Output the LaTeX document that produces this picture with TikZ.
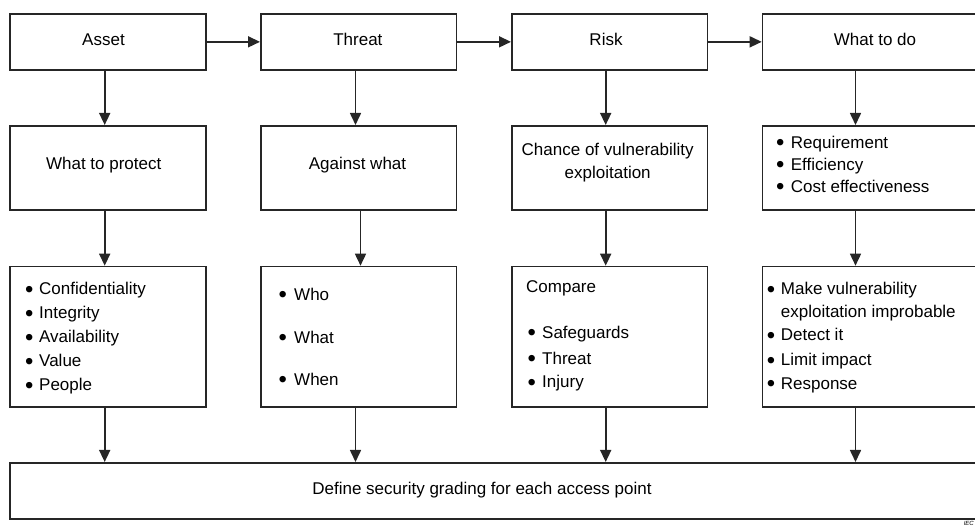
\documentclass[tikz,border=0pt]{standalone}
\usepackage{fontspec}
\setmainfont{Liberation Sans}
\usetikzlibrary{arrows.meta,calc}
\tikzset{
  box/.style={draw=black!85, line width=1.7pt, fill=white, rectangle, inner sep=0pt, anchor=north west},
  lbl/.style={font=\fontsize{17}{23}\selectfont, inner sep=0pt, anchor=base, text=black},
  itm/.style={font=\fontsize{17}{23}\selectfont, inner sep=0pt, anchor=base west, text=black},
  arr/.style={draw=black!85, line width=1.6pt, -{Triangle[length=12pt,width=11pt]}},
}
\newcommand{\bitem}[2]{\makebox[#1pt][l]{\raisebox{-2.2pt}{\scalebox{1.4}{\textbullet}}}#2}
\begin{document}
\begin{tikzpicture}[x=1pt,y=-1pt]
\useasboundingbox (0,0) rectangle (975,526);
\clip (0,0) rectangle (975,526);
% row 1
\node[box, minimum width=195.7pt, minimum height=56pt] (asset) at (9.3,13) {};
\node[box, minimum width=195.7pt, minimum height=56pt] (threat) at (260,13) {};
\node[box, minimum width=195.7pt, minimum height=56pt] (risk) at (511,13) {};
\node[box, minimum width=226pt, minimum height=56pt] (todo) at (761.7,13) {};
% row 2
\node[box, minimum width=195.7pt, minimum height=84pt] (protect) at (9.3,125) {};
\node[box, minimum width=195.7pt, minimum height=84pt] (against) at (260,125) {};
\node[box, minimum width=195.7pt, minimum height=84pt] (chance) at (511,125) {};
\node[box, minimum width=226pt, minimum height=84pt] (req) at (761.7,125) {};
% row 3
\node[box, minimum width=195.7pt, minimum height=140.3pt] (conf) at (9.3,265.7) {};
\node[box, minimum width=195.7pt, minimum height=140.3pt] (who) at (260,265.7) {};
\node[box, minimum width=195.7pt, minimum height=140.3pt] (compare) at (511,265.7) {};
\node[box, minimum width=226pt, minimum height=140.3pt] (make) at (761.7,265.7) {};
% bottom
\node[box, minimum width=1000pt, minimum height=56pt] (define) at (9.3,462) {};

% column coordinates
\coordinate (c1) at (104.7,0);
\coordinate (c2) at (355.5,0);
\coordinate (c2b) at (360.5,0);
\coordinate (c3) at (605.7,0);
\coordinate (c4) at (855.5,0);

% horizontal arrows
\draw[arr] (asset.east) -- (threat.west);
\draw[arr] (threat.east) -- (risk.west);
\draw[arr] (risk.east) -- (todo.west);
% vertical arrows
\draw[arr] (asset.south -| c1) -- (protect.north -| c1);
\draw[arr] (protect.south -| c1) -- (conf.north -| c1);
\draw[arr] (conf.south -| c1) -- (define.north -| c1);
\draw[arr] (threat.south -| c2) -- (against.north -| c2);
\draw[arr] (against.south -| c2b) -- (who.north -| c2b);
\draw[arr] (who.south -| c2) -- (define.north -| c2);
\draw[arr] (risk.south -| c3) -- (chance.north -| c3);
\draw[arr] (chance.south -| c3) -- (compare.north -| c3);
\draw[arr] (compare.south -| c3) -- (define.north -| c3);
\draw[arr] (todo.south -| c4) -- (req.north -| c4);
\draw[arr] (req.south -| c4) -- (make.north -| c4);
\draw[arr] (make.south -| c4) -- (define.north -| c4);

% row 1 labels
\node[lbl] (tasset) at (103.5,45.5) {Asset};
\node[lbl] (tthreat) at (357.9,45.5) {Threat};
\node[lbl] (trisk) at (606,45.5) {Risk};
\node[lbl] (ttodo) at (875,45.5) {What to do};
% row 2 labels
\node[lbl] (tprotect) at (103.7,169.4) {What to protect};
\node[lbl] (tagainst) at (357.5,169.4) {Against what};
\node[lbl] (tchance) at (607.7,155.4) {Chance of vulnerability};
\node[lbl] (tchance2) at (607.7,178.4) {exploitation};
\node[itm] (treq) at (776,148.5) {\bitem{14.7}{Requirement}};
\node[itm] (teff) at (776,170.3) {\bitem{14.7}{Efficiency}};
\node[itm] (tcost) at (776,192.1) {\bitem{14.7}{Cost effectiveness}};
% row 3 column 1
\node[itm] (tconf) at (25,295) {\bitem{14}{Confidentiality}};
\node[itm] (tint) at (25,319) {\bitem{14}{Integrity}};
\node[itm] (tavail) at (25,343) {\bitem{14}{Availability}};
\node[itm] (tvalue) at (25,367) {\bitem{14}{Value}};
\node[itm] (tpeople) at (25,391) {\bitem{14}{People}};
% row 3 column 2
\node[itm] (twho) at (278.3,300.3) {\bitem{15.7}{Who}};
\node[itm] (twhat) at (278.3,343.7) {\bitem{15.7}{What}};
\node[itm] (twhen) at (278.3,385.3) {\bitem{15.7}{When}};
% row 3 column 3
\node[itm] (tcompare) at (526,292.7) {Compare};
\node[itm] (tsafe) at (527.3,338.7) {\bitem{14.7}{Safeguards}};
\node[itm] (tthr) at (527.3,364.3) {\bitem{14.7}{Threat}};
\node[itm] (tinj) at (527.3,388) {\bitem{14.7}{Injury}};
% row 3 column 4
\node[itm] (tmake) at (766.7,295) {\bitem{14}{Make vulnerability}};
\node[itm] (texpl) at (780.7,317.7) {exploitation improbable};
\node[itm] (tdetect) at (766.7,341) {\bitem{14}{Detect it}};
\node[itm] (tlimit) at (766.7,366) {\bitem{14}{Limit impact}};
\node[itm] (tresp) at (766.7,389.3) {\bitem{14}{Response}};
% bottom
\node[lbl] (tdefine) at (482,494.3) {Define security grading for each access point};
\node[anchor=south east, inner sep=0pt, font=\fontsize{6}{7}\selectfont\itshape] (iec) at (974,525.5) {IEC};
\end{tikzpicture}
\end{document}
